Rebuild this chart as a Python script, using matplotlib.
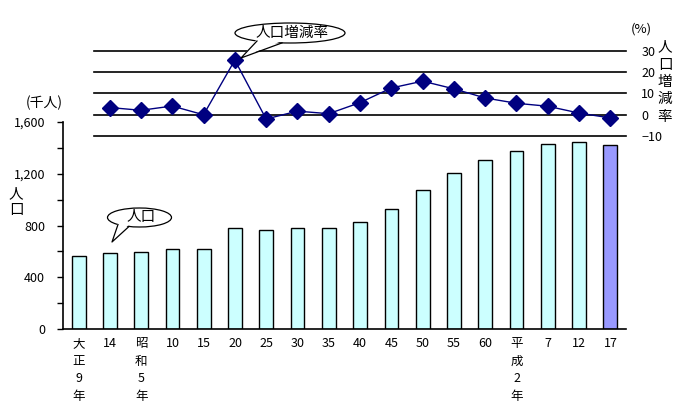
import numpy as np
import matplotlib
matplotlib.use('Agg')
import matplotlib.pyplot as plt
from matplotlib.patches import Ellipse, Polygon

plt.rcParams['font.family'] = ['Noto Sans CJK JP', 'DejaVu Sans']
plt.rcParams['font.size'] = 8.5

# data (thousand persons / percent change)
labels = ['大\n正\n9\n年', '14', '昭\n和\n5\n年', '10', '15', '20', '25', '30', '35',
          '40', '45', '50', '55', '60', '平\n成\n2\n年', '7', '12', '17']
population = [565, 584, 596, 620, 621, 780, 764, 777, 781, 826, 930, 1077,
              1209, 1305, 1375, 1431, 1443, 1421]
rate = [None, 3.4, 2.1, 4.1, 0.0, 25.7, -2.0, 1.7, 0.5, 5.7, 12.6, 15.8,
        12.2, 7.9, 5.4, 4.0, 0.8, -1.5]

W, H = 678, 408
fig = plt.figure(figsize=(W / 100, H / 100), dpi=100)

def px(l, t, r, b):
    return [l / W, 1 - b / H, (r - l) / W, (b - t) / H]

x = np.arange(len(labels))

# --- bar chart (population)
ax = fig.add_axes(px(63, 122, 626, 329))
colors = ['#CCFFFF'] * (len(x) - 1) + ['#9999FF']
ax.bar(x, population, width=0.44, color=colors, edgecolor='black', linewidth=1)
ax.set_xlim(-0.5, len(x) - 0.5)
ax.set_ylim(0, 1600)
ax.set_yticks(np.arange(0, 1601, 400))
ax.set_yticklabels(['{:,}'.format(v) for v in range(0, 1601, 400)], fontsize=9)
ax.set_yticks(np.arange(0, 1601, 200), minor=True)
ax.tick_params(axis='y', which='both', direction='out', length=4, width=1, pad=9)
ax.set_xticks(x)
ax.set_xticklabels(labels, va='top', linespacing=1.45, fontsize=9)
ax.tick_params(axis='x', length=0, pad=6)
for s in ['top', 'right']:
    ax.spines[s].set_visible(False)
for s in ['left', 'bottom']:
    ax.spines[s].set_linewidth(1.2)

# --- rate line chart
ax2 = fig.add_axes(px(94, 51, 626, 136))
xr = [i for i, r in enumerate(rate) if r is not None]
yr = [r for r in rate if r is not None]
ax2.plot(xr, yr, color='#000080', linewidth=1, marker='D', markersize=8,
         markerfacecolor='#000080', markeredgecolor='#000080', zorder=3)
ax2.set_xlim(0.5, len(x) - 0.5)
ax2.set_ylim(-10, 30)
ax2.set_yticks([-10, 0, 10, 20, 30])
ax2.yaxis.tick_right()
ax2.tick_params(axis='y', length=0, pad=11, labelsize=9)
for lbl in ax2.get_yticklabels():
    lbl.set_horizontalalignment('left')
ax2.set_xticks([])
ax2.grid(axis='y', color='black', linewidth=1.2)
for gl in ax2.get_ygridlines():
    gl.set_clip_on(False)
for s in ax2.spines.values():
    s.set_visible(False)
ax2.patch.set_alpha(0)

# --- texts and callouts (pixel overlay)
ov = fig.add_axes([0, 0, 1, 1])
ov.set_xlim(0, W)
ov.set_ylim(H, 0)
ov.axis('off')
ov.patch.set_alpha(0)

ov.text(44, 103, '(千人)', ha='center', va='center', fontsize=10)
ov.text(16, 202, '人\n口', ha='center', va='center', fontsize=10.5, linespacing=1.2)
ov.text(641, 29, '(%)', ha='center', va='center', fontsize=9.5)
ov.text(665, 82, '人\n口\n増\n減\n率', ha='center', va='center', fontsize=10.5,
        linespacing=1.3)


def callout(cx, cy, a, b, tip, bx0, bx1, text):
    yb0 = cy + b * np.sqrt(1 - ((bx0 - cx) / a) ** 2)
    yb1 = cy + b * np.sqrt(1 - ((bx1 - cx) / a) ** 2)
    ov.add_patch(Ellipse((cx, cy), 2 * a, 2 * b, facecolor='white',
                         edgecolor='black', linewidth=0.9, zorder=5))
    ov.add_patch(Polygon([(bx0, yb0 - 2), tip, (bx1, yb1 - 2)], closed=True,
                         facecolor='white', edgecolor='none', zorder=6))
    ov.plot([bx0, tip[0], bx1], [yb0, tip[1], yb1], color='black',
            linewidth=0.9, zorder=7)
    ov.text(cx + 2, cy, text, ha='center', va='center', fontsize=10.5, zorder=8)


callout(290, 33, 55, 10, (241, 58), 257, 282, '人口増減率')
callout(139.5, 217.5, 32, 9.5, (112, 242), 118, 129, '人口')

fig.savefig('out.png', dpi=100)
